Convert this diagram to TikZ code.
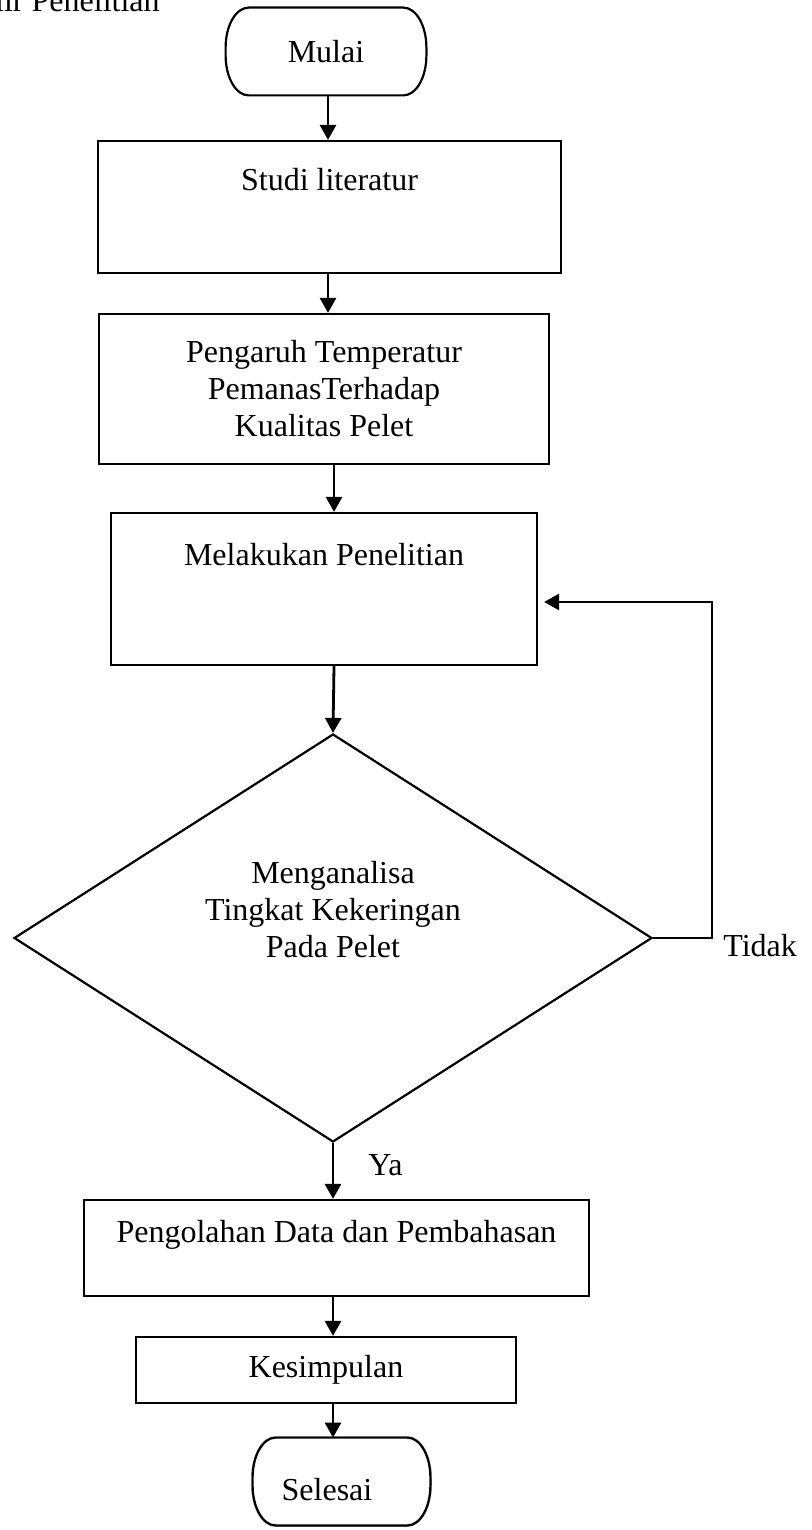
\documentclass[tikz,border=0pt]{standalone}
\usepackage{fontspec}
\setmainfont{Liberation Serif}
\usetikzlibrary{arrows.meta,calc,shapes.geometric}
\newcommand\termoutline[2]{%
  \draw[#2] ($(#1.north west)+(23,0)$) -- ($(#1.north east)+(-23,0)$)
    arc[start angle=-90,end angle=0,x radius=23,y radius=40]
    -- ($(#1.south east)+(0,-40)$)
    arc[start angle=0,end angle=90,x radius=23,y radius=40]
    -- ($(#1.south west)+(23,0)$)
    arc[start angle=90,end angle=180,x radius=23,y radius=40]
    -- ($(#1.north west)+(0,40)$)
    arc[start angle=180,end angle=270,x radius=23,y radius=40] -- cycle;}
\begin{document}
\begin{tikzpicture}[x=0.5pt,y=-0.5pt,
  lbl/.style={font=\fontsize{16pt}{18.5pt}\selectfont, inner sep=0pt, align=center},
  boxnode/.style={draw, line width=1.1pt, inner sep=0pt},
  termnode/.style={inner sep=0pt, minimum width=100pt, minimum height=43.5pt},
  arr/.style={line width=1.4pt, -{Triangle[length=7.5pt,width=8pt]}},
]
\useasboundingbox (0,0) rectangle (812,1530);
\clip (0,0) rectangle (812,1530);
\fill[white] (0,0) rectangle (812,1530);

\node[lbl, anchor=base east] (title) at (160,12) {Diagram Alir Penelitian};

% terminals
\node[termnode, lbl] (start) at (326,51.5) {Mulai};
\termoutline{start}{line width=1.1pt}

% process boxes
\node[boxnode, minimum width=231.5pt, minimum height=66pt] (s2) at (329.5,207) {};
\node[lbl, anchor=base] (t2) at ($(s2.north)+(0,51)$) {Studi literatur};

\node[boxnode, lbl, minimum width=225pt, minimum height=75pt] (s3) at (324,389)
  {Pengaruh Temperatur\\PemanasTerhadap\\Kualitas Pelet};

\node[boxnode, minimum width=213pt, minimum height=76pt] (s4) at (324,589) {};
\node[lbl, anchor=base] (t4) at ($(s4.north)+(0,54)$) {Melakukan Penelitian};

\node[diamond, draw, line width=1.1pt, inner sep=0pt, minimum width=319pt, minimum height=204pt] (dia) at (333,938) {};
\node[lbl] (tdia) at (333,910) {Menganalisa\\Tingkat Kekeringan\\Pada Pelet};

\node[boxnode, minimum width=252.5pt, minimum height=48pt] (s5) at (336.5,1248) {};
\node[lbl, anchor=base] (t5) at ($(s5.north)+(0,44)$) {Pengolahan Data dan Pembahasan};

\node[boxnode, lbl, minimum width=190pt, minimum height=33pt] (s6) at (326,1370) {Kesimpulan};

\node[termnode, minimum width=88.5pt] (stop) at (341.5,1481.5) {};
\begin{scope}[shift={(4,4)}]
\termoutline{stop}{draw=gray!70, line width=1.5pt}
\end{scope}
\termoutline{stop}{line width=1.1pt, fill=white}
\node[lbl, anchor=base] (tstop) at (327,1500) {Selesai};

% connectors
\draw[arr] (start.south -| 328,0) -- (s2.north -| 328,0);
\draw[arr] (s2.south -| 328,0) -- (s3.north -| 328,0);
\draw[arr] (s3.south -| 334,0) -- (s4.north -| 334,0);
\draw[arr] (s4.south -| 334,0) -- (dia.north);
\draw[arr] (dia.south) -- (s5.north -| dia.south);
\draw[arr] (s5.south -| 333,0) -- (s6.north -| 333,0);
\draw[arr] (s6.south -| 333,0) -- (stop.north -| 333,0);

\coordinate (fb) at (712,602);
\draw[arr] (dia.east) -| (fb) -- ($(s4.east |- fb)+(6,0)$);

\node[lbl, anchor=base west] (tidak) at (723,956) {Tidak};
\node[lbl, anchor=base west] (ya) at (368,1175) {Ya};
\end{tikzpicture}
\end{document}
